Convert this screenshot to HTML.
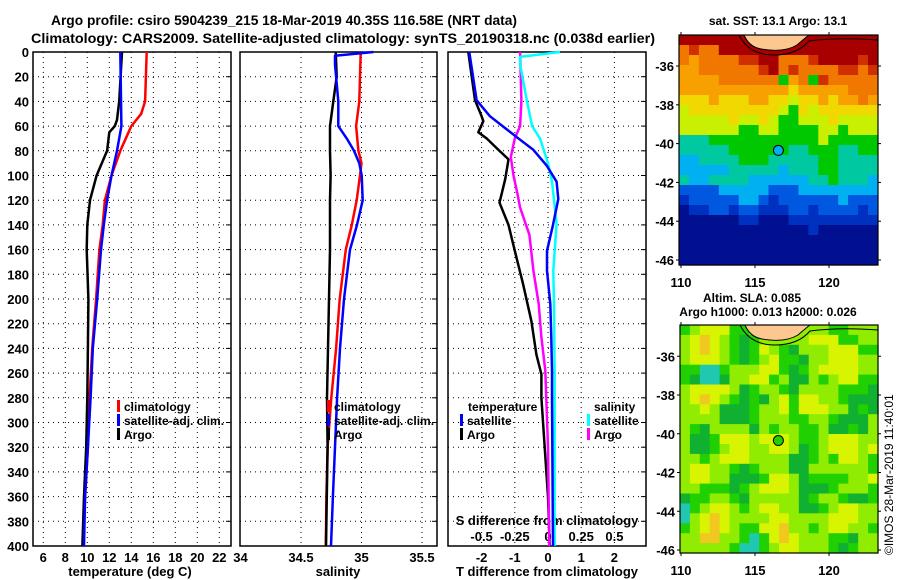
<!DOCTYPE html>
<html><head><meta charset="utf-8">
<style>
html,body{margin:0;padding:0;background:#fff;}
svg{display:block;font-family:"Liberation Sans",Arial,sans-serif;font-weight:bold;}
text{fill:#000;}
</style></head>
<body>
<svg id="chart" width="900" height="580" viewBox="0 0 900 580" xmlns="http://www.w3.org/2000/svg">
<text x="51" y="25" font-size="14" textLength="466" lengthAdjust="spacingAndGlyphs">Argo profile: csiro 5904239_215 18-Mar-2019 40.35S 116.58E (NRT data)</text>
<text x="31" y="43" font-size="14" textLength="624" lengthAdjust="spacingAndGlyphs">Climatology: CARS2009. Satellite-adjusted climatology: synTS_20190318.nc (0.038d earlier)</text>
<text x="778" y="25" font-size="12" text-anchor="middle">sat. SST: 13.1 Argo: 13.1</text>
<text x="752" y="302" font-size="12" text-anchor="middle">Altim. SLA: 0.085</text>
<text x="768" y="316" font-size="12" text-anchor="middle">Argo h1000: 0.013 h2000: 0.026</text>
<text transform="translate(893,555) rotate(-90)" font-size="12" font-weight="normal">©IMOS 28-Mar-2019 11:40:01</text>
</svg>
<script>
// ---------- data ----------
const depthTicks = [0,20,40,60,80,100,120,140,160,180,200,220,240,260,280,300,320,340,360,380,400];
const tempTicks = [6,8,10,12,14,16,18,20,22];
const salTicks = [34,34.5,35,35.5];
const tdiffTicks = [-2,-1,0,1,2];
const sdiffTicks = [-0.5,-0.25,0,0.25,0.5];
const sdiffTickLabels = ["-0.5","-0.25","0","0.25","0.5"];

const tClimDepth = [0,40,50,60,80,90,100,120,140,160,200,240,280,320,360,400];
const tClimVal   = [15.4,15.25,14.9,14.0,13.0,12.6,12.2,11.6,11.4,11.1,10.8,10.45,10.2,10.05,9.8,9.6];
const tSatDepth  = [0,60,80,100,120,140,160,200,240,280,320,360,400];
const tSatVal    = [13.0,13.1,12.7,12.2,11.8,11.5,11.25,10.9,10.5,10.3,10.05,9.8,9.7];
const tArgoDepth = [0,40,55,60,65,80,100,120,140,160,200,240,280,320,360,400];
const tArgoVal   = [13.15,12.9,12.7,12.5,12.0,11.8,10.85,10.25,10.0,9.95,10.1,10.05,10.0,9.9,9.7,9.55];

const sArgoDepth = [0,20,40,60,80,100,120,160,200,280,320,400];
const sArgoVal   = [34.787,34.795,34.767,34.74,34.74,34.745,34.74,34.74,34.731,34.715,34.72,34.707];
const sSatDepth  = [0,3,10,40,60,70,80,90,100,120,140,160,200,240,280,320,360,400];
const sSatVal    = [35.098,34.781,34.781,34.808,34.808,34.878,34.938,34.982,35.002,35.01,34.963,34.905,34.855,34.822,34.798,34.781,34.764,34.748];
const sClimDepth = [0,40,60,80,90,100,120,140,160,200,240,280,320,360,400];
const sClimVal   = [34.993,34.982,34.955,34.974,35.0,34.988,34.96,34.92,34.87,34.82,34.79,34.75,34.72,34.71,34.705];

const dTSatDepth = [0,39,52,69,79,92,105,119,140,161,177,204,231,258,280,400];
const dTSatVal   = [-2.37,-2.15,-1.75,-0.94,-0.45,-0.04,0.26,0.31,0.15,-0.03,-0.03,0.07,0.1,0.12,0.12,0.15];
const dTArgoDepth= [0,39,52,56,65,70,79,87,103,122,140,161,188,218,245,261,280,320,360,400];
const dTArgoVal  = [-2.4,-2.2,-2.0,-1.95,-2.1,-1.85,-1.5,-1.19,-1.29,-1.46,-1.19,-1.0,-0.75,-0.5,-0.35,-0.2,-0.2,-0.1,0.0,0.05];
const dSSatDepth = [0,4,10,39,60,70,90,105,139,177,204,258,400];
const dSSatVal   = [0.09,-0.21,-0.21,-0.16,-0.12,-0.06,0.0,0.03,0.065,0.04,0.045,0.05,0.05];
const dSArgoDepth= [0,39,60,70,85,100,115,126,148,177,204,231,258,320,400];
const dSArgoVal  = [-0.21,-0.2,-0.21,-0.25,-0.28,-0.26,-0.23,-0.21,-0.14,-0.11,-0.07,-0.05,-0.02,0.0,0.01];

const latTicks = [-36,-38,-40,-42,-44,-46];
const lonTicks = [110,115,120];
const argoLat = -40.35, argoLon = 116.58;

const sstRows = [
"RRRRRRRRRRRRRRRRRRRR","OrOORRRRRRRRRRRRRRRR","OoOOOOrrRROOOrRRRRrR","ooOOOOOOrROrOOOOrrOr",
"ooooOOOOOOGoOGrOOOOO","oooooooooooYoooooOOO","YYYoYYYooYYyYYoYooOo","yYYYYYYYYYyGYyYYYYYY",
"yyyyyYyyYyGGyyyYyyyy","yyyyyyGGyyGGGGyyGyyy","TTTGGGGGGGGGGGyGGGGG","TTTTTGGGGGGTTGGGTTGG",
"CCTTTTGGGTTTTTGGTTTT","CCCCCTTTTTCTTTGGTTTT","TCCTTTTCCCCCCTTGTTTC","BBBBCCCCCBBBCCCCCCCC",
"bBBBBBCCBbBBBBBBCBBB","NbbBBbBBbbbBBbBBBBbB","NNNNNNbbNNNbbbbbbbbb","NNNNNNNNNNNNNbNNNNNN",
"NNNNNNNNNNNNNNNNNNNN","NNNNNNNNNNNNNNNNNNNN","NNNNNNNNNNNNNNNNNNNN"];
const sstColors = {R:"#a80000",r:"#d03000",O:"#f07800",o:"#f8a000",Y:"#f0d800",y:"#c8f000",G:"#00c800",T:"#00c8a0",C:"#00b0f0",B:"#0058e0",b:"#0030c0",N:"#001090"};
const slaRows = [
"glyyyggllllllllgglll","lyoylgdglllllyyyggll","lyoylgdgylgdlllyyygg","lyyylgdglyggdllyyyll",
"ggttglllyygdglyyyyll","gdttdllyyglddlglyygg","lyyyyldgllgdllllgggd","lyoylgdgdlygyyllgddd",
"llyldddgllygyyylldgd","lllldddglllggllgdddl","lgdlllldlgllgglddgdl","lddgyyylyyylgglyyyll",
"lddglyyllyyldglyyyly","llglyyyllllddglgyylg","lyyllgdglllddllllllg","lyylldddgyyldgggglly",
"llgggdglyyyldddglllg","dggllgdllllldgllgddg","tglyylglyyllddglyyll","tlyoyllllyyllllyyyll",
"glyoylggyyollglyyllg","lloollgtgyoylllggdll","lllllgttglyylllgdgll"];
const slaColors = {g:"#20d000",l:"#90ec00",y:"#d8f400",o:"#f0c820",d:"#10b030",t:"#20c8b0"};

// ---------- helpers ----------
const NS = "http://www.w3.org/2000/svg";
const svg = document.getElementById("chart");
function mk(tag, attrs, parent){
  const e = document.createElementNS(NS, tag);
  for (const k in attrs) e.setAttribute(k, attrs[k]);
  (parent||svg).appendChild(e);
  return e;
}
const Y0 = 52, Y1 = 546;
function yDepth(d){ return Y0 + d*(Y1-Y0)/400; }

const panels = [
  {name:"temperature-panel", x0:33, x1:231, xs:t=>43.3+(t-6)*11, ticks:tempTicks, labels:tempTicks.map(String), title:"temperature (deg C)", tx:130},
  {name:"salinity-panel", x0:240, x1:437, xs:s=>301+(s-34.5)*121, ticks:salTicks, labels:salTicks.map(String), title:"salinity", tx:338},
  {name:"difference-panel", x0:448, x1:646, xs:v=>548+v*33.2, ticks:tdiffTicks, labels:tdiffTicks.map(String), title:"T difference from climatology", tx:547}
];
const sx = v=>548+v*132.8;

panels.forEach((p,pi)=>{
  const g = mk("g",{});
  
  
  depthTicks.forEach(d=>{
    if(d===0||d===400) return;
    const l = mk("line",{x1:p.x0,x2:p.x1,y1:yDepth(d),y2:yDepth(d),stroke:"#000","stroke-width":1,"stroke-dasharray":"1,4"},g);
    
    
    mk("line",{x1:p.x1-5,x2:p.x1,y1:yDepth(d),y2:yDepth(d),stroke:"#000"},g);
  });
  p.ticks.forEach((t,i)=>{
    const x = p.xs(t);
    if (x>p.x0+1 && x<p.x1-1){
      const l = mk("line",{x1:x,x2:x,y1:Y0,y2:Y1,stroke:"#000","stroke-dasharray":"1,4"},g);
      
      
    }
    const tx = mk("text",{x:x,y:562,"font-size":13,"text-anchor":"middle"},g);
    tx.textContent = p.labels[i];
    
    
  });
  const at = mk("text",{x:p.tx,y:576,"font-size":13,"text-anchor":"middle"},g);
  at.textContent = p.title;
  
  
  const fr = mk("rect",{x:p.x0,y:Y0,width:p.x1-p.x0,height:Y1-Y0,fill:"none",stroke:"#000","stroke-width":1.5},g);
  
  
});
depthTicks.forEach(d=>{
  const t = mk("text",{x:29,y:yDepth(d)+5,"font-size":13,"text-anchor":"end"});
  t.textContent = d;
  
  
});
const sdt = mk("text",{x:547,y:525,"font-size":13,"text-anchor":"middle"});
sdt.textContent = "S difference from climatology";


sdiffTicks.forEach((v,i)=>{
  const t = mk("text",{x:sx(v),y:541,"font-size":13,"text-anchor":"middle"});
  t.textContent = sdiffTickLabels[i];
  
  
});

function line(depths, vals, xf, color, w, name){
  const pts = depths.map((d,i)=>xf(vals[i]).toFixed(1)+","+yDepth(d).toFixed(1)).join(" ");
  const l = mk("polyline",{points:pts,fill:"none",stroke:color,"stroke-width":w,"stroke-linejoin":"round"});
  
  
}
line(tClimDepth,tClimVal,panels[0].xs,"#ff0000",2.5,"temperature-climatology-line");
line(tArgoDepth,tArgoVal,panels[0].xs,"#000",2.5,"temperature-argo-line");
line(tSatDepth,tSatVal,panels[0].xs,"#0000ff",2.5,"temperature-satellite-line");
line(sClimDepth,sClimVal,panels[1].xs,"#ff0000",2.5,"salinity-climatology-line");
line(sArgoDepth,sArgoVal,panels[1].xs,"#000",2.5,"salinity-argo-line");
line(sSatDepth,sSatVal,panels[1].xs,"#0000ff",2.5,"salinity-satellite-line");
line(dTArgoDepth,dTArgoVal,panels[2].xs,"#000",2.5,"tdiff-argo-line");
line(dSArgoDepth,dSArgoVal,sx,"#ff00ff",2.5,"sdiff-argo-line");
line(dSSatDepth,dSSatVal,sx,"#00ffff",2.5,"sdiff-satellite-line");
line(dTSatDepth,dTSatVal,panels[2].xs,"#0000ff",2.5,"tdiff-satellite-line");

function legend(x,y,color,label,name){
  const g = mk("g",{});
  
  
  if(color) mk("rect",{x:x,y:y-11,width:3,height:12,fill:color},g);
  const t = mk("text",{x:x+7,y:y,"font-size":12},g);
  t.textContent = label;
}
legend(117,411,"#ff0000","climatology","legend-climatology");
legend(117,425,"#0000ff","satellite-adj. clim.","legend-satellite");
legend(117,439,"#000","Argo","legend-argo");
legend(327,411,"#ff0000","climatology","legend-climatology-sal");
legend(327,425,"#0000ff","satellite-adj. clim.","legend-satellite-sal");
legend(327,439,"#000","Argo","legend-argo-sal");
legend(461,411,null,"temperature","legend-temperature-header");
legend(460,425,"#0000ff","satellite","legend-tdiff-satellite");
legend(460,439,"#000","Argo","legend-tdiff-argo");
legend(587,411,null,"salinity","legend-salinity-header");
legend(587,425,"#00ffff","satellite","legend-sdiff-satellite");
legend(587,439,"#ff00ff","Argo","legend-sdiff-argo");

function drawMap(name, x0,y0,x1,y1, rows, colors, latA, yA, latB, yB, circleFill){
  const g = mk("g",{});
  
  
  const nr = rows.length, nc = rows[0].length;
  const cw = (x1-x0)/nc, ch = (y1-y0)/nr;
  rows.forEach((r,ri)=>{
    for(let ci=0;ci<nc;ci++){
      const c = mk("rect",{x:(x0+ci*cw).toFixed(1),y:(y0+ri*ch).toFixed(1),width:(cw+0.6).toFixed(1),height:(ch+0.6).toFixed(1),fill:colors[r[ci]]},g);
      
      
    }
  });
  const ly = lat=>yA+(lat-latA)*(yB-yA)/(latB-latA);
  const lx = lon=>681+(lon-110)*14.8;
  const land = mk("path",{d:`M${x0+65},${y0} Q${x0+70},${y0+12} ${x0+82},${y0+14} Q${x0+105},${y0+18} ${x0+118},${y0+10} Q${x0+126},${y0+3} ${x0+130},${y0} Z`,fill:"#fcc890",stroke:"#000","stroke-width":1},g);
  
  
  mk("path",{d:`M${x0+60},${y0} Q${x0+70},${y0+20} ${x0+95},${y0+20} Q${x0+118},${y0+20} ${x0+130},${y0+6} Q${x0+160},${y0+2} ${x1},${y0+5}`,fill:"none",stroke:"#000","stroke-width":1},g);
  latTicks.forEach(lat=>{
    const y = ly(lat);
    mk("line",{x1:x0-3,x2:x0,y1:y,y2:y,stroke:"#000"},g);
    mk("line",{x1:x1,x2:x1+3,y1:y,y2:y,stroke:"#000"},g);
    const t = mk("text",{x:x0-5,y:y+5,"font-size":13,"text-anchor":"end"},g);
    t.textContent = lat;
    
    
  });
  lonTicks.forEach(lon=>{
    const x = lx(lon);
    mk("line",{x1:x,x2:x,y1:y1,y2:y1+3,stroke:"#000"},g);
    mk("line",{x1:x,x2:x,y1:y0-3,y2:y0,stroke:"#000"},g);
    const t = mk("text",{x:x,y:y1+22,"font-size":13,"text-anchor":"middle"},g);
    t.textContent = lon;
    
    
  });
  const c = mk("circle",{cx:lx(argoLon),cy:ly(argoLat),r:5,fill:circleFill,stroke:"#000","stroke-width":1},g);
  
  
  mk("rect",{x:x0,y:y0,width:x1-x0,height:y1-y0,fill:"none",stroke:"#000","stroke-width":1.2},g);
}
drawMap("sst-map",679,35,878,265,sstRows,sstColors,-36,66,-46,260,"#00b0f0");
drawMap("sla-map",680,325,878,553,slaRows,slaColors,-38,395,-46,550,"#20d000");
</script>
</body></html>
